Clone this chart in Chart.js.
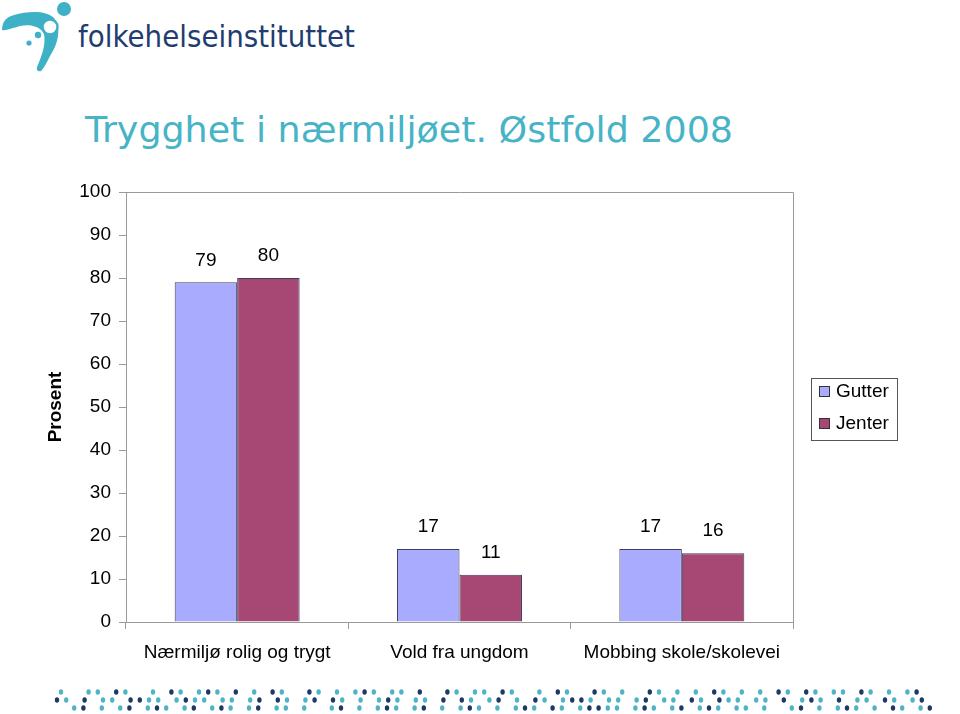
<!DOCTYPE html>
<html lang="no">
<head>
<meta charset="UTF-8">
<title>Trygghet i nærmiljøet. Østfold 2008</title>
<script src="https://cdn.jsdelivr.net/npm/chart.js"></script>
<style>
  body { margin: 0; background: #fff; }
  #wrap { position: relative; width: 960px; height: 714px; overflow: hidden; }
  #wrap svg, #wrap canvas { position: absolute; left: 0; top: 0; }
</style>
</head>
<body>
<div id="wrap">
  <svg id="deco" width="960" height="714">
    <!-- logo -->
    <path d="M2 30 C 2 22, 6 17, 14 15 C 28 11, 46 10, 54 18 C 62 28, 58 44, 50 56 C 47 62, 44 68, 41 71 C 38 72, 36 70, 37 67 C 42 56, 46 44, 44 34 C 40 26, 30 24, 20 26 C 12 28, 6 31, 2 30 Z" fill="#3fb1c6"/>
    <circle cx="50" cy="27" r="7.5" fill="#fff" stroke="#3fb1c6" stroke-width="2.5"/>
    <circle cx="64" cy="9" r="7" fill="#3fb1c6"/>
    <circle cx="38" cy="35" r="3.2" fill="#3fb1c6"/>
    <circle cx="29" cy="43" r="2.6" fill="#3fb1c6"/>
    <text x="78" y="47" font-family="DejaVu Sans" font-size="31" fill="#1f3d70" textLength="277" lengthAdjust="spacingAndGlyphs">folkehelseinstituttet</text>
    <!-- title -->
    <text x="85" y="142" font-family="DejaVu Sans" font-size="35" fill="#46b4c6" textLength="648" lengthAdjust="spacingAndGlyphs">Trygghet i nærmiljøet. Østfold 2008</text>
    <g id="dots"></g>
  </svg>
  <canvas id="chart" width="960" height="714"></canvas>
</div>
<script>
const categories = ['Nærmiljø rolig og trygt', 'Vold fra ungdom', 'Mobbing skole/skolevei'];
const seriesNames = ['Gutter', 'Jenter'];
const gutter = [79, 17, 17];
const jenter = [80, 11, 16];
const yMin = 0, yMax = 100, yStep = 10;

// dotted band at the bottom (decoration)
const dotRows = [
  't..tt.nt..t.nt.tnt.n.t.nt..nt.t.tnt.tt.n..nt.tt.nt..t.nt..nt.t..nt.t.t.nt.t.t.nt.nt.tt.nt.t.tn',
  'nt.n.tt.nntt.tntt.tt.tn.nt.tn.nt.t.tnt.tt.n.nt.tn.t.nt.tnnt.tt.tn.tt.nt.ntt.tt.n.tnt.n.tt.nt.tn',
  '.tn.t.tn.tnt.tn.tnt.tn.tt.t..tn.t.tnt.tn.t.tnt.t.tnt.nt.tnntt.tnt.tn.tnt.tt.t..tn.t.tnt.t.nt.tn'
];
(function () {
  const g = document.getElementById('dots');
  const ns = 'http://www.w3.org/2000/svg';
  const rowY = [692, 700, 708];
  const rowX = [61, 57, 65];
  dotRows.forEach((row, r) => {
    for (let i = 0; i < row.length; i++) {
      const c = row[i];
      if (c === '.') continue;
      const x = rowX[r] + i * 9.2;
      if (x > 958) break;
      const e = document.createElementNS(ns, 'ellipse');
      e.setAttribute('cx', x);
      e.setAttribute('cy', rowY[r]);
      e.setAttribute('rx', 2.2);
      e.setAttribute('ry', 2.8);
      e.setAttribute('fill', c === 'n' ? '#1d3a66' : '#4cb4c4');
      g.appendChild(e);
    }
  });
})();

const FONT = 'Liberation Sans, Arial, sans-serif';
const FS = 19;

const framePlugin = {
  id: 'frame',
  beforeDatasetsDraw(chart) {
    const { ctx, chartArea: a } = chart;
    ctx.save();
    ctx.strokeStyle = '#9a9a9a';
    ctx.lineWidth = 1;
    ctx.beginPath();
    ctx.moveTo(a.left, a.top + 0.5);
    ctx.lineTo(a.right + 0.5, a.top + 0.5);
    ctx.lineTo(a.right + 0.5, a.bottom);
    ctx.stroke();
    ctx.restore();
  }
};

const valueLabels = {
  id: 'valueLabels',
  afterDatasetsDraw(chart) {
    const { ctx } = chart;
    ctx.save();
    ctx.font = FS + 'px ' + FONT;
    ctx.fillStyle = '#000';
    ctx.textAlign = 'center';
    ctx.textBaseline = 'middle';
    chart.data.datasets.forEach((ds, i) => {
      chart.getDatasetMeta(i).data.forEach((bar, j) => {
        ctx.fillText(String(ds.data[j]), bar.x, bar.y - 22);
      });
    });
    ctx.restore();
  }
};

const boxLegend = {
  id: 'boxLegend',
  afterDraw(chart) {
    const { ctx } = chart;
    const x = 811, y = 378, w = 86, h = 62;
    ctx.save();
    ctx.strokeStyle = '#555';
    ctx.lineWidth = 1;
    ctx.strokeRect(x + 0.5, y + 0.5, w, h);
    ctx.font = FS + 'px ' + FONT;
    ctx.textBaseline = 'middle';
    chart.data.datasets.forEach((ds, i) => {
      const cy = y + 13 + i * 32;
      ctx.fillStyle = ds.backgroundColor;
      ctx.fillRect(x + 8, cy - 5, 11, 11);
      ctx.strokeStyle = '#333';
      ctx.strokeRect(x + 8.5, cy - 4.5, 10, 10);
      ctx.fillStyle = '#000';
      ctx.fillText(ds.label, x + 25, cy + 1);
    });
    ctx.restore();
  }
};

new Chart(document.getElementById('chart'), {
  type: 'bar',
  data: {
    labels: categories,
    datasets: [
      { label: seriesNames[0], data: gutter, backgroundColor: '#a9abff', borderColor: '#3d3d5c', borderWidth: 1 },
      { label: seriesNames[1], data: jenter, backgroundColor: '#a64873', borderColor: '#3d3d5c', borderWidth: 1 }
    ]
  },
  options: {
    responsive: false,
    animation: false,
    devicePixelRatio: 1,
    categoryPercentage: 0.562,
    barPercentage: 1,
    layout: { padding: { left: 0, top: 192, right: 167, bottom: 0 } },
    plugins: { legend: { display: false }, tooltip: { enabled: false } },
    scales: {
      x: {
        afterFit(s) { s.height = 92; },
        grid: { offset: true, drawOnChartArea: false, tickLength: 7, color: '#9a9a9a' },
        border: { color: '#9a9a9a' },
        ticks: { color: '#000', font: { family: FONT, size: FS }, padding: 12, maxRotation: 0 }
      },
      y: {
        min: yMin,
        max: yMax,
        afterFit(s) { s.width = 126; },
        grid: { drawOnChartArea: false, tickLength: 7, color: '#9a9a9a' },
        border: { color: '#9a9a9a' },
        ticks: { stepSize: yStep, color: '#000', font: { family: FONT, size: FS }, padding: 8 },
        title: {
          display: true,
          text: 'Prosent',
          color: '#000',
          font: { family: FONT, size: FS, weight: 'bold' },
          padding: { top: 44, bottom: 0 }
        }
      }
    }
  },
  plugins: [framePlugin, valueLabels, boxLegend]
});
</script>
</body>
</html>
